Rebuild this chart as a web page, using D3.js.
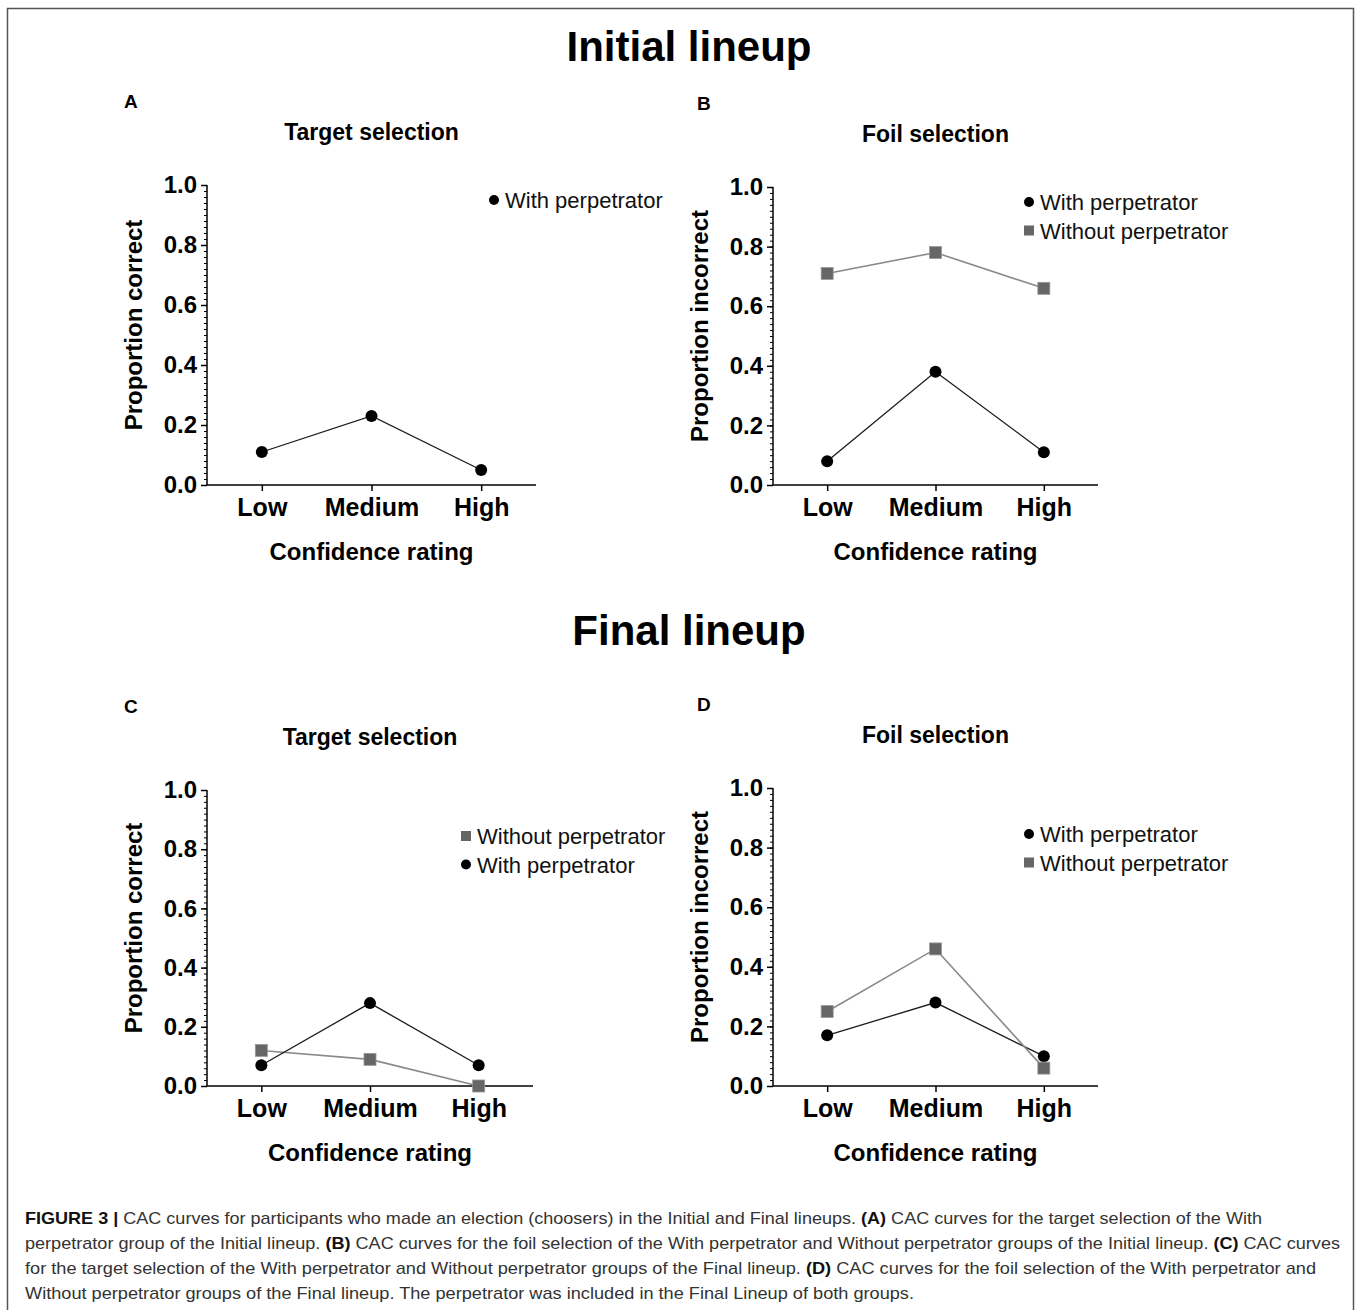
<!DOCTYPE html>
<html>
<head>
<meta charset="utf-8">
<script src="https://cdn.jsdelivr.net/npm/d3@7"></script>
<style>
  body { margin: 0; background: #fff; }
  svg { display: block; font-family: "Liberation Sans", Arial, Helvetica, sans-serif; }
</style>
</head>
<body>
<div id="Chart"></div>
<script>

// DATA

const levels = ["Low", "Medium", "High"];
const yTicks = [0, 0.2, 0.4, 0.6, 0.8, 1.0];

// initial lineup
const initialTargetWith = [0.11, 0.23, 0.05];
const initialFoilWith = [0.08, 0.38, 0.11];
const initialFoilWithout = [0.71, 0.78, 0.66];

// final lineup
const finalTargetWithout = [0.12, 0.09, 0.00];
const finalTargetWith = [0.07, 0.28, 0.07];
const finalFoilWith = [0.17, 0.28, 0.10];
const finalFoilWithout = [0.25, 0.46, 0.06];

const WITH = "With perpetrator";
const WITHOUT = "Without perpetrator";

const captionLines = [
    [["FIGURE 3 |", true], [" CAC curves for participants who made an election (choosers) in the Initial and Final lineups. ", false], ["(A)", true], [" CAC curves for the target selection of the With", false]],
    [["perpetrator group of the Initial lineup. ", false], ["(B)", true], [" CAC curves for the foil selection of the With perpetrator and Without perpetrator groups of the Initial lineup. ", false], ["(C)", true], [" CAC curves", false]],
    [["for the target selection of the With perpetrator and Without perpetrator groups of the Final lineup. ", false], ["(D)", true], [" CAC curves for the foil selection of the With perpetrator and", false]],
    [["Without perpetrator groups of the Final lineup. The perpetrator was included in the Final Lineup of both groups.", false]]
];
const captionWidths = [1237, 1315, 1291, 889];

// LAYOUT

const WIDTH = 1357;
const HEIGHT = 1310;

const panels = [
    {letter: "A", title: "Target selection", ylabel: "Proportion correct", letterX: 124,
     left: 207, right: 536, top: 185, bottom: 485, legendX: 494, legendY: 200,
     series: [{name: WITH, values: initialTargetWith}]},
    {letter: "B", title: "Foil selection", ylabel: "Proportion incorrect", letterX: 697,
     left: 773, right: 1098, top: 187, bottom: 485, legendX: 1029, legendY: 202,
     series: [{name: WITH, values: initialFoilWith}, {name: WITHOUT, values: initialFoilWithout}]},
    {letter: "C", title: "Target selection", ylabel: "Proportion correct", letterX: 124,
     left: 207, right: 533, top: 790, bottom: 1086, legendX: 466, legendY: 836,
     series: [{name: WITHOUT, values: finalTargetWithout}, {name: WITH, values: finalTargetWith}]},
    {letter: "D", title: "Foil selection", ylabel: "Proportion incorrect", letterX: 697,
     left: 773, right: 1098, top: 788, bottom: 1086, legendX: 1029, legendY: 834,
     series: [{name: WITH, values: finalFoilWith}, {name: WITHOUT, values: finalFoilWithout}]}
];

const svg = d3.select("#Chart")
    .append("svg")
    .attr("width", WIDTH)
    .attr("height", HEIGHT);

// frame, open at the bottom
svg.append("path")
    .attr("d", `M7.5,${HEIGHT} V8.5 H1353.5 V${HEIGHT}`)
    .attr("fill", "none")
    .attr("stroke", "#555")
    .attr("stroke-width", 1.5);

svg.append("text")
    .attr("x", 689).attr("y", 61)
    .attr("text-anchor", "middle")
    .style("font-size", "42px").style("font-weight", "bold")
    .text("Initial lineup");

svg.append("text")
    .attr("x", 689).attr("y", 645)
    .attr("text-anchor", "middle")
    .style("font-size", "42px").style("font-weight", "bold")
    .text("Final lineup");

function drawPanel(p) {
    const x = d3.scalePoint().domain(levels).range([p.left, p.right]).padding(0.5);
    const y = d3.scaleLinear().domain([0, 1]).range([p.bottom, p.top]);
    const g = svg.append("g");
    const cx = (p.left + p.right) / 2;

    g.append("text")
        .attr("x", p.letterX).attr("y", p.top - 77)
        .style("font-size", "19px").style("font-weight", "bold")
        .text(p.letter);

    g.append("text")
        .attr("x", cx).attr("y", p.top - 45)
        .attr("text-anchor", "middle")
        .style("font-size", "23px").style("font-weight", "bold")
        .text(p.title);

    // minor ticks first
    g.append("g")
        .attr("transform", `translate(${p.left},0)`)
        .call(d3.axisLeft(y).ticks(50).tickSize(3).tickFormat(""))
        .call(a => a.select(".domain").remove())
        .call(a => a.selectAll("line").attr("stroke-width", 1));

    const yAxis = g.append("g")
        .attr("transform", `translate(${p.left},0)`)
        .call(d3.axisLeft(y).tickValues(yTicks).tickSize(6).tickPadding(4).tickFormat(d3.format(".1f")));
    yAxis.select(".domain").attr("d", `M0,${p.top}V${p.bottom}`).attr("stroke-width", 1.5);
    yAxis.selectAll("line").attr("stroke-width", 1.5);
    yAxis.selectAll("text")
        .style("font-size", "24px").style("font-weight", "bold")
        .style("font-family", "'Liberation Sans', Arial, sans-serif")
        .attr("fill", "#000");

    const xAxis = g.append("g")
        .attr("transform", `translate(0,${p.bottom})`)
        .call(d3.axisBottom(x).tickSize(6).tickPadding(7));
    xAxis.select(".domain").attr("d", `M${p.left},0H${p.right}`).attr("stroke-width", 1.5);
    xAxis.selectAll("line").attr("stroke-width", 1.5);
    xAxis.selectAll("text")
        .style("font-size", "25px").style("font-weight", "bold")
        .style("font-family", "'Liberation Sans', Arial, sans-serif")
        .attr("fill", "#000");

    g.append("text")
        .attr("x", cx).attr("y", p.bottom + 75)
        .attr("text-anchor", "middle")
        .style("font-size", "24px").style("font-weight", "bold")
        .text("Confidence rating");

    g.append("text")
        .attr("transform", `translate(${p.left - 65},${(p.top + p.bottom) / 2 - 10}) rotate(-90)`)
        .attr("text-anchor", "middle")
        .style("font-size", "24px").style("font-weight", "bold")
        .text(p.ylabel);

    const line = d3.line().x((d, i) => x(levels[i])).y(d => y(d));

    p.series.forEach(s => {
        const isWith = s.name === WITH;
        g.append("path")
            .datum(s.values)
            .attr("d", line)
            .attr("fill", "none")
            .attr("stroke", isWith ? "#1a1a1a" : "#8a8a8a")
            .attr("stroke-width", isWith ? 1.3 : 1.6);

        if (isWith) {
            g.selectAll(null).data(s.values).join("circle")
                .attr("cx", (d, i) => x(levels[i]))
                .attr("cy", d => y(d))
                .attr("r", 6)
                .attr("fill", "#000");
        } else {
            g.selectAll(null).data(s.values).join("rect")
                .attr("x", (d, i) => x(levels[i]) - 6)
                .attr("y", d => y(d) - 6)
                .attr("width", 12).attr("height", 12)
                .attr("fill", "#666")
                .attr("stroke", "#999")
                .attr("stroke-width", 0.8);
        }
    });

    // legend
    p.series.forEach((s, i) => {
        const ly = p.legendY + i * 28.5;
        if (s.name === WITH) {
            g.append("circle").attr("cx", p.legendX).attr("cy", ly).attr("r", 5).attr("fill", "#000");
        } else {
            g.append("rect").attr("x", p.legendX - 5).attr("y", ly - 5)
                .attr("width", 10).attr("height", 10).attr("fill", "#666");
        }
        g.append("text")
            .attr("x", p.legendX + 11).attr("y", ly + 8)
            .style("font-size", "22px")
            .attr("fill", "#111")
            .text(s.name);
    });
}

panels.forEach(drawPanel);

// caption
const caption = svg.append("g");
captionLines.forEach((parts, i) => {
    const t = caption.append("text")
        .attr("x", 25).attr("y", 1224 + i * 25)
        .attr("textLength", captionWidths[i])
        .attr("lengthAdjust", "spacingAndGlyphs")
        .style("font-family", "'Liberation Sans Narrow', 'Liberation Sans', Arial, sans-serif")
        .style("font-size", "17px")
        .attr("fill", "#333");
    parts.forEach(([str, bold]) => {
        t.append("tspan")
            .style("font-weight", bold ? "bold" : "normal")
            .attr("fill", bold ? "#111" : "#333")
            .text(str);
    });
});

</script>
</body>
</html>
